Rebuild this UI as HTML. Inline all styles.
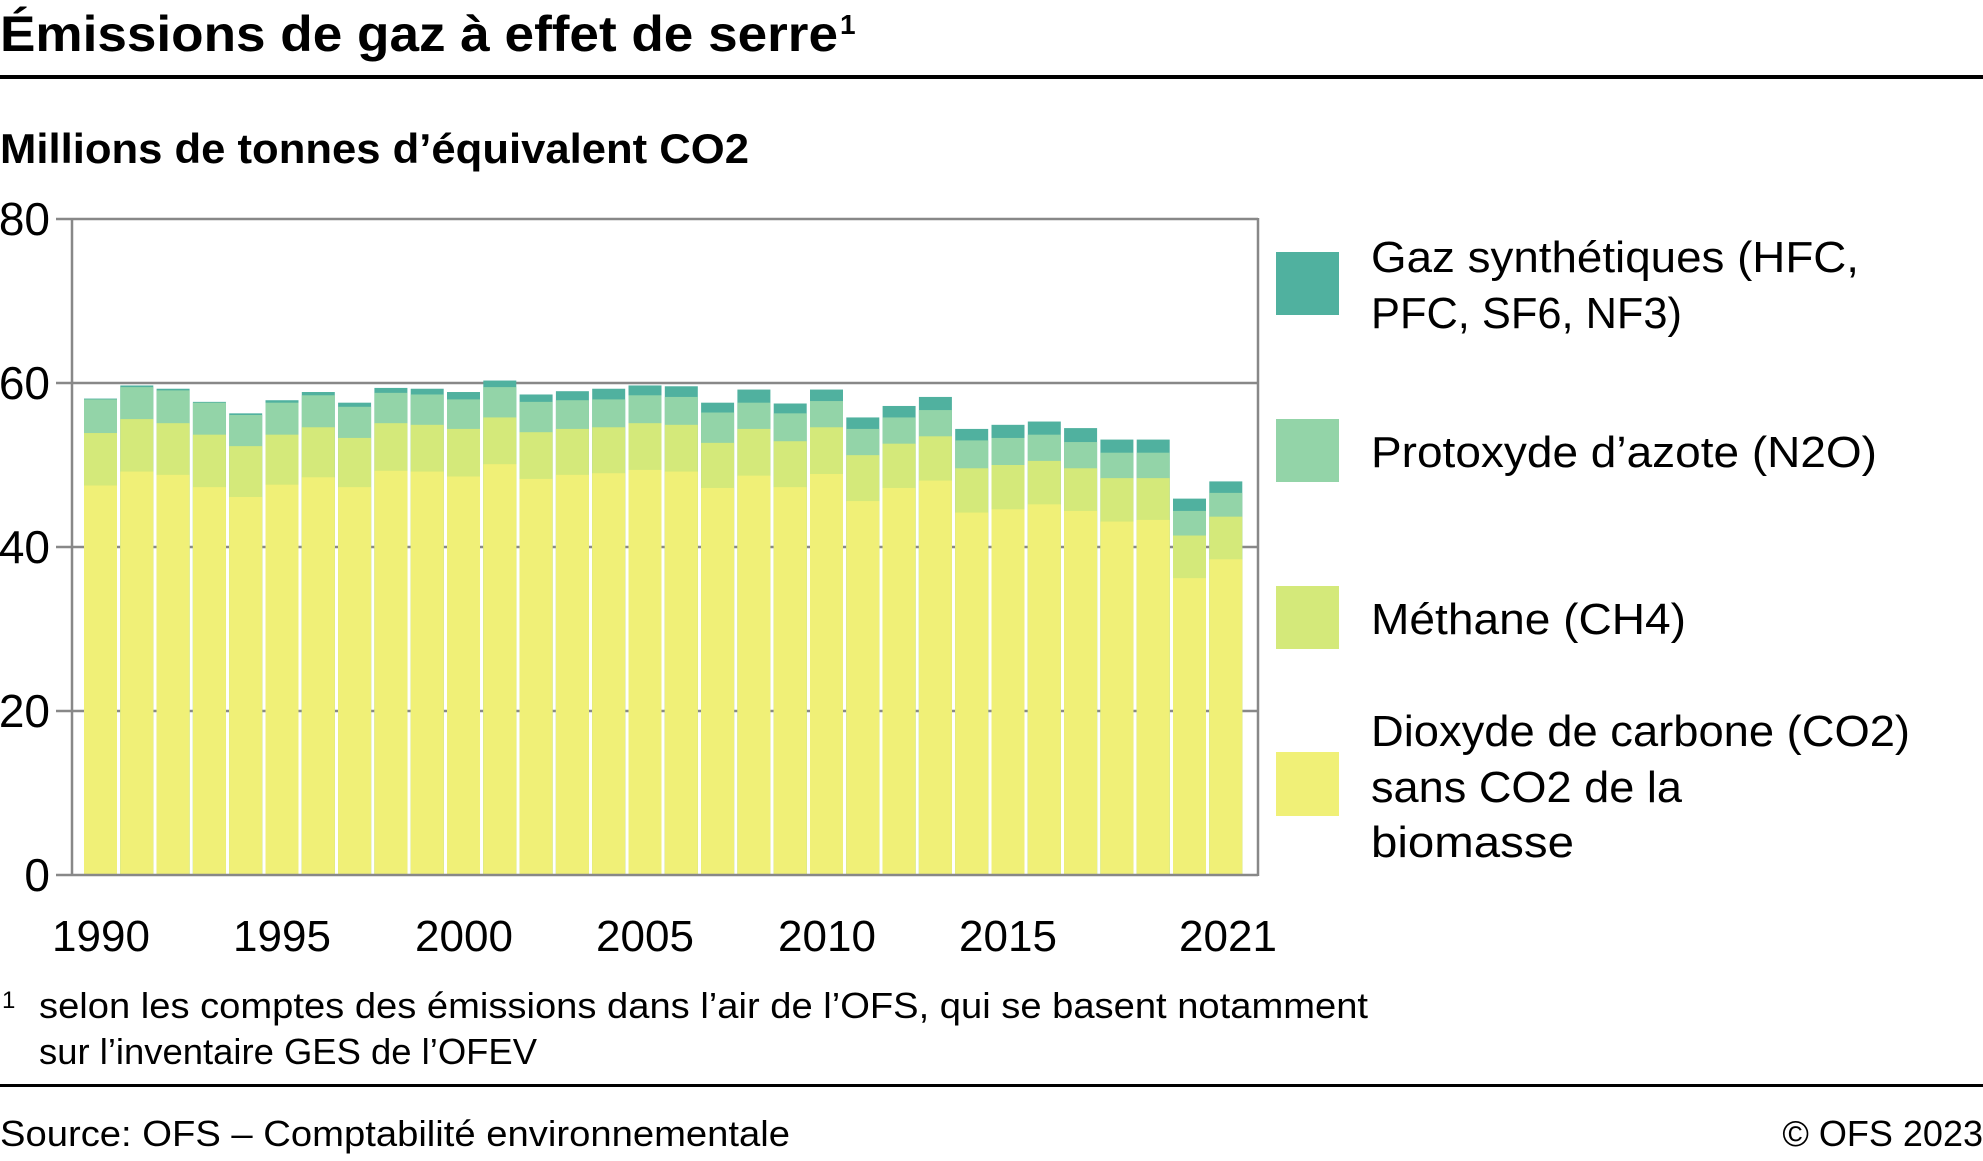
<!DOCTYPE html>
<html><head><meta charset="utf-8"><style>
html,body{margin:0;padding:0;background:#fff;}
svg{display:block;font-family:"Liberation Sans",sans-serif;}
.s{fill:#50b19f}.n{fill:#93d4a8}.c{fill:#d4e97a}.a{fill:#f0f077}
</style></head><body>
<svg width="1983" height="1161" viewBox="0 0 1983 1161" xmlns="http://www.w3.org/2000/svg">
<text x="0" y="51" font-size="50" font-weight="bold" textLength="838" lengthAdjust="spacingAndGlyphs">Émissions de gaz à effet de serre</text>
<text x="840" y="34" font-size="28" font-weight="bold">1</text>
<rect x="0" y="75" width="1983" height="4" fill="#000"/>
<text x="0" y="163" font-size="42" font-weight="bold" textLength="749" lengthAdjust="spacingAndGlyphs">Millions de tonnes d’équivalent CO2</text>
<g stroke="#888" stroke-width="2.5">
<line x1="56" y1="219" x2="1258" y2="219"/>
<line x1="56" y1="383" x2="1258" y2="383"/>
<line x1="56" y1="547" x2="1258" y2="547"/>
<line x1="56" y1="711" x2="1258" y2="711"/>
</g>
<g transform="translate(0,875) scale(1,-8.2)">
<g transform="translate(84,0)"><rect class="s" width="33" height="58.1"/><rect class="n" width="33" height="58.0"/><rect class="c" width="33" height="53.9"/><rect class="a" width="33" height="47.5"/></g>
<g transform="translate(120.3,0)"><rect class="s" width="33" height="59.7"/><rect class="n" width="33" height="59.5"/><rect class="c" width="33" height="55.6"/><rect class="a" width="33" height="49.2"/></g>
<g transform="translate(156.6,0)"><rect class="s" width="33" height="59.3"/><rect class="n" width="33" height="59.1"/><rect class="c" width="33" height="55.1"/><rect class="a" width="33" height="48.8"/></g>
<g transform="translate(192.9,0)"><rect class="s" width="33" height="57.7"/><rect class="n" width="33" height="57.6"/><rect class="c" width="33" height="53.7"/><rect class="a" width="33" height="47.3"/></g>
<g transform="translate(229.2,0)"><rect class="s" width="33" height="56.3"/><rect class="n" width="33" height="56.1"/><rect class="c" width="33" height="52.3"/><rect class="a" width="33" height="46.1"/></g>
<g transform="translate(265.5,0)"><rect class="s" width="33" height="57.9"/><rect class="n" width="33" height="57.6"/><rect class="c" width="33" height="53.7"/><rect class="a" width="33" height="47.6"/></g>
<g transform="translate(301.8,0)"><rect class="s" width="33" height="58.9"/><rect class="n" width="33" height="58.5"/><rect class="c" width="33" height="54.6"/><rect class="a" width="33" height="48.5"/></g>
<g transform="translate(338.1,0)"><rect class="s" width="33" height="57.6"/><rect class="n" width="33" height="57.1"/><rect class="c" width="33" height="53.3"/><rect class="a" width="33" height="47.3"/></g>
<g transform="translate(374.4,0)"><rect class="s" width="33" height="59.4"/><rect class="n" width="33" height="58.8"/><rect class="c" width="33" height="55.1"/><rect class="a" width="33" height="49.3"/></g>
<g transform="translate(410.7,0)"><rect class="s" width="33" height="59.3"/><rect class="n" width="33" height="58.6"/><rect class="c" width="33" height="54.9"/><rect class="a" width="33" height="49.2"/></g>
<g transform="translate(447,0)"><rect class="s" width="33" height="58.9"/><rect class="n" width="33" height="58.0"/><rect class="c" width="33" height="54.4"/><rect class="a" width="33" height="48.6"/></g>
<g transform="translate(483.3,0)"><rect class="s" width="33" height="60.3"/><rect class="n" width="33" height="59.5"/><rect class="c" width="33" height="55.8"/><rect class="a" width="33" height="50.1"/></g>
<g transform="translate(519.6,0)"><rect class="s" width="33" height="58.6"/><rect class="n" width="33" height="57.7"/><rect class="c" width="33" height="54.0"/><rect class="a" width="33" height="48.3"/></g>
<g transform="translate(555.9,0)"><rect class="s" width="33" height="59.0"/><rect class="n" width="33" height="57.9"/><rect class="c" width="33" height="54.4"/><rect class="a" width="33" height="48.8"/></g>
<g transform="translate(592.2,0)"><rect class="s" width="33" height="59.3"/><rect class="n" width="33" height="58.0"/><rect class="c" width="33" height="54.6"/><rect class="a" width="33" height="49.0"/></g>
<g transform="translate(628.5,0)"><rect class="s" width="33" height="59.7"/><rect class="n" width="33" height="58.5"/><rect class="c" width="33" height="55.1"/><rect class="a" width="33" height="49.4"/></g>
<g transform="translate(664.8,0)"><rect class="s" width="33" height="59.6"/><rect class="n" width="33" height="58.3"/><rect class="c" width="33" height="54.9"/><rect class="a" width="33" height="49.2"/></g>
<g transform="translate(701.1,0)"><rect class="s" width="33" height="57.6"/><rect class="n" width="33" height="56.4"/><rect class="c" width="33" height="52.7"/><rect class="a" width="33" height="47.2"/></g>
<g transform="translate(737.4,0)"><rect class="s" width="33" height="59.2"/><rect class="n" width="33" height="57.6"/><rect class="c" width="33" height="54.4"/><rect class="a" width="33" height="48.7"/></g>
<g transform="translate(773.7,0)"><rect class="s" width="33" height="57.5"/><rect class="n" width="33" height="56.3"/><rect class="c" width="33" height="52.9"/><rect class="a" width="33" height="47.3"/></g>
<g transform="translate(810,0)"><rect class="s" width="33" height="59.2"/><rect class="n" width="33" height="57.8"/><rect class="c" width="33" height="54.6"/><rect class="a" width="33" height="48.9"/></g>
<g transform="translate(846.3,0)"><rect class="s" width="33" height="55.8"/><rect class="n" width="33" height="54.4"/><rect class="c" width="33" height="51.2"/><rect class="a" width="33" height="45.6"/></g>
<g transform="translate(882.6,0)"><rect class="s" width="33" height="57.2"/><rect class="n" width="33" height="55.8"/><rect class="c" width="33" height="52.6"/><rect class="a" width="33" height="47.2"/></g>
<g transform="translate(918.9,0)"><rect class="s" width="33" height="58.3"/><rect class="n" width="33" height="56.7"/><rect class="c" width="33" height="53.5"/><rect class="a" width="33" height="48.1"/></g>
<g transform="translate(955.2,0)"><rect class="s" width="33" height="54.4"/><rect class="n" width="33" height="53.0"/><rect class="c" width="33" height="49.6"/><rect class="a" width="33" height="44.2"/></g>
<g transform="translate(991.5,0)"><rect class="s" width="33" height="54.9"/><rect class="n" width="33" height="53.3"/><rect class="c" width="33" height="50.0"/><rect class="a" width="33" height="44.6"/></g>
<g transform="translate(1027.8,0)"><rect class="s" width="33" height="55.3"/><rect class="n" width="33" height="53.7"/><rect class="c" width="33" height="50.5"/><rect class="a" width="33" height="45.2"/></g>
<g transform="translate(1064.1,0)"><rect class="s" width="33" height="54.5"/><rect class="n" width="33" height="52.8"/><rect class="c" width="33" height="49.6"/><rect class="a" width="33" height="44.4"/></g>
<g transform="translate(1100.4,0)"><rect class="s" width="33" height="53.1"/><rect class="n" width="33" height="51.5"/><rect class="c" width="33" height="48.4"/><rect class="a" width="33" height="43.1"/></g>
<g transform="translate(1136.7,0)"><rect class="s" width="33" height="53.1"/><rect class="n" width="33" height="51.5"/><rect class="c" width="33" height="48.4"/><rect class="a" width="33" height="43.3"/></g>
<g transform="translate(1173,0)"><rect class="s" width="33" height="45.9"/><rect class="n" width="33" height="44.4"/><rect class="c" width="33" height="41.4"/><rect class="a" width="33" height="36.2"/></g>
<g transform="translate(1209.3,0)"><rect class="s" width="33" height="48.0"/><rect class="n" width="33" height="46.6"/><rect class="c" width="33" height="43.7"/><rect class="a" width="33" height="38.5"/></g>
</g>
<g stroke="#888" stroke-width="2.5" fill="none">
<line x1="56" y1="875" x2="1258" y2="875"/>
<line x1="72" y1="218" x2="72" y2="876"/>
<line x1="1258" y1="218" x2="1258" y2="876"/>
</g>
<g font-size="46" text-anchor="end">
<text x="50" y="235">80</text>
<text x="50" y="399">60</text>
<text x="50" y="563">40</text>
<text x="50" y="727">20</text>
<text x="50" y="891">0</text>
</g>
<g font-size="44" text-anchor="middle">
<text x="101" y="951">1990</text>
<text x="282" y="951">1995</text>
<text x="464" y="951">2000</text>
<text x="645" y="951">2005</text>
<text x="827" y="951">2010</text>
<text x="1008" y="951">2015</text>
<text x="1228" y="951">2021</text>
</g>
<rect x="1276" y="252" width="63" height="63" fill="#50b19f"/>
<rect x="1276" y="419" width="63" height="63" fill="#93d4a8"/>
<rect x="1276" y="586" width="63" height="63" fill="#d4e97a"/>
<rect x="1276" y="752" width="63" height="64" fill="#f0f077"/>
<g font-size="44">
<text x="1371" y="272" textLength="488" lengthAdjust="spacingAndGlyphs">Gaz synthétiques (HFC,</text>
<text x="1371" y="328" textLength="311" lengthAdjust="spacingAndGlyphs">PFC, SF6, NF3)</text>
<text x="1371" y="467" textLength="506" lengthAdjust="spacingAndGlyphs">Protoxyde d’azote (N2O)</text>
<text x="1371" y="634" textLength="315" lengthAdjust="spacingAndGlyphs">Méthane (CH4)</text>
<text x="1371" y="746" textLength="539" lengthAdjust="spacingAndGlyphs">Dioxyde de carbone (CO2)</text>
<text x="1371" y="802" textLength="311" lengthAdjust="spacingAndGlyphs">sans CO2 de la</text>
<text x="1371" y="857" textLength="203" lengthAdjust="spacingAndGlyphs">biomasse</text>
</g>
<text x="2" y="1008" font-size="24">1</text>
<text x="39" y="1018" font-size="36" textLength="1329" lengthAdjust="spacingAndGlyphs">selon les comptes des émissions dans l’air de l’OFS, qui se basent notamment</text>
<text x="39" y="1064" font-size="36" textLength="498" lengthAdjust="spacingAndGlyphs">sur l’inventaire GES de l’OFEV</text>
<rect x="0" y="1084" width="1983" height="3" fill="#000"/>
<text x="0" y="1146" font-size="36" textLength="790" lengthAdjust="spacingAndGlyphs">Source: OFS – Comptabilité environnementale</text>
<text x="1983" y="1146" font-size="36" text-anchor="end">© OFS 2023</text>
</svg>
</body></html>
